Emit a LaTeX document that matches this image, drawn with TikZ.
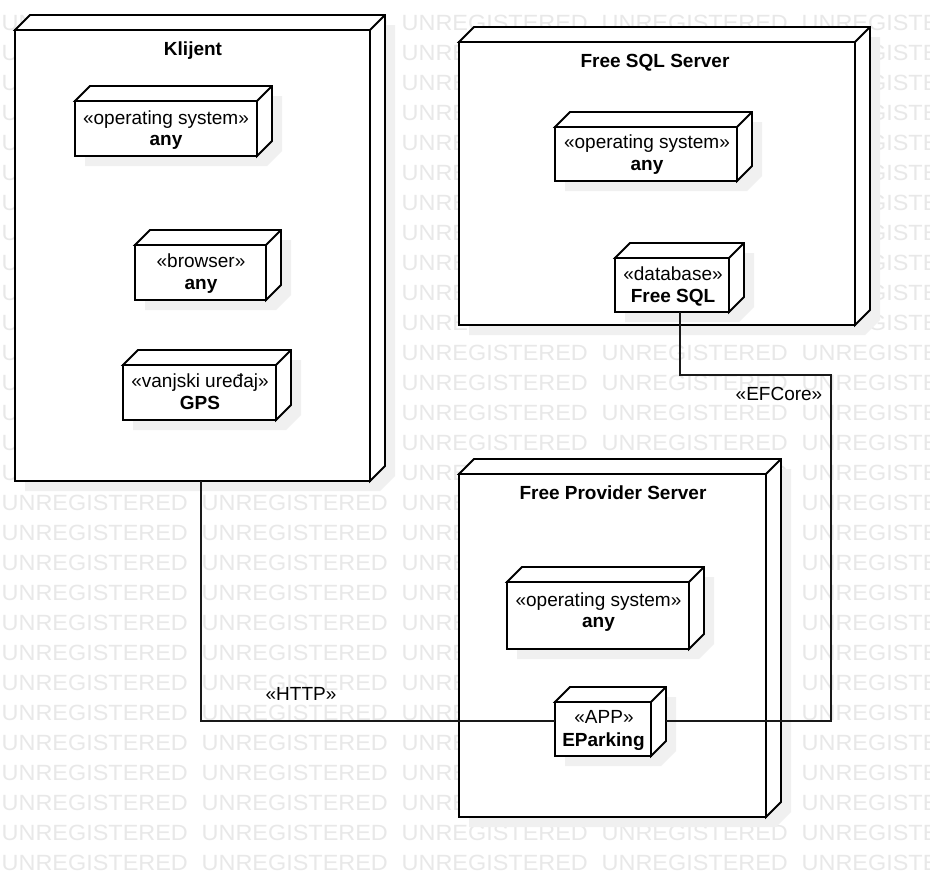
\documentclass[tikz,border=0pt]{standalone}
\usepackage{fontspec}
\setmainfont{Liberation Sans}
\usetikzlibrary{calc}
\tikzset{
  frontbox/.style={draw=black, fill=white, line width=1.8pt, inner sep=0pt, outer sep=0pt},
  edge3d/.style={draw=black, line width=1.8pt, line join=miter},
  shadowc/.style={fill=black!6},
  stereo/.style={font=\fontsize{19}{22}\selectfont, inner sep=0pt, anchor=base},
  nametxt/.style={font=\fontsize{19}{22}\selectfont\bfseries, inner sep=0pt, anchor=base},
  conn/.style={draw=black!90, line width=1.3pt},
  wmark/.style={font=\fontsize{22}{22}\selectfont, text=black!9, inner sep=0pt, anchor=base west, xscale=1.065},
}
% name, x1, y1, x2, y2, depth
\newcommand\ddbox[6]{%
  \fill[shadowc] (#2+10,#3+10) -- (#2+#6+10,#3-#6+10) -- (#4+#6+10,#3-#6+10)
     -- (#4+#6+10,#5-#6+10) -- (#4+10,#5+10) -- (#2+10,#5+10) -- cycle;
  \filldraw[edge3d, fill=white] (#2,#3) -- (#2+#6,#3-#6) -- (#4+#6,#3-#6)
     -- (#4+#6,#5-#6) -- (#4,#5) -- (#4,#3) -- cycle;
  \draw[edge3d] (#4,#3) -- (#4+#6,#3-#6);
  \node[frontbox, minimum width={#4-#2}, minimum height={#5-#3}] (#1)
     at ({(#2+#4)/2},{(#3+#5)/2}) {};
}
\begin{document}
\begin{tikzpicture}[x=1pt,y=-1pt]
\useasboundingbox (0,0) rectangle (930,879);
\fill[white] (0,0) rectangle (930,879);
% watermark
\foreach \r in {0,...,28}{
  \foreach \c in {0,...,4}{
    \node[wmark] (wm-\r-\c) at (1.5+200*\c, 30+30*\r) {UNREGISTERED};
  }
}
% outer nodes
\ddbox{kl}{15}{30}{370}{481}{15}
\ddbox{sql}{459}{42}{855}{325}{15}
\ddbox{prov}{459}{474}{766}{817}{15}
\node[nametxt] (kl-t) at (193,55) {Klijent};
\node[nametxt] (sql-t) at (655,67) {Free SQL Server};
\node[nametxt] (prov-t) at (613,499) {Free Provider Server};
% inner nodes
\ddbox{kos}{75}{101}{257}{156}{15}
\ddbox{kbr}{135}{245}{266}{300}{15}
\ddbox{gps}{123}{365}{276}{420}{15}
\ddbox{sos}{555}{127}{737}{181}{15}
\ddbox{db}{615}{258}{729}{312}{15}
\ddbox{pos}{507}{582}{689}{649}{15}
\ddbox{app}{555}{702}{651}{756}{15}
\node[stereo] (kos-s) at (166,124) {«operating system»};
\node[nametxt] (kos-n) at (166,145) {any};
\node[stereo] (kbr-s) at (201,267) {«browser»};
\node[nametxt] (kbr-n) at (201,289) {any};
\node[stereo] (gps-s) at (200,387) {«vanjski uređaj»};
\node[nametxt] (gps-n) at (200,409) {GPS};
\node[stereo] (sos-s) at (647,148.5) {«operating system»};
\node[nametxt] (sos-n) at (647,170.5) {any};
\node[stereo] (db-s) at (673,280) {«database»};
\node[nametxt] (db-n) at (673,302) {Free SQL};
\node[stereo] (pos-s) at (598.5,606) {«operating system»};
\node[nametxt] (pos-n) at (598.5,627) {any};
\node[stereo] (app-s) at (604,723) {«APP»};
\node[nametxt] (app-n) at (603.5,746) {EParking};
% connectors
\coordinate (h1) at (201,721);
\coordinate (e1) at (680,375);
\coordinate (e2) at (831,721);
\draw[conn] (kl.south -| h1) -- (h1) -- (app.west |- h1);
\draw[conn] (db.south -| e1) -- (e1) -- (e1 -| e2) -- (e2) -- ($(app.east |- e2)+(15,0)$);
\node[stereo] (http-l) at (301,700.5) {«HTTP»};
\node[stereo] (ef-l) at (779,400.5) {«EFCore»};
\end{tikzpicture}
\end{document}
